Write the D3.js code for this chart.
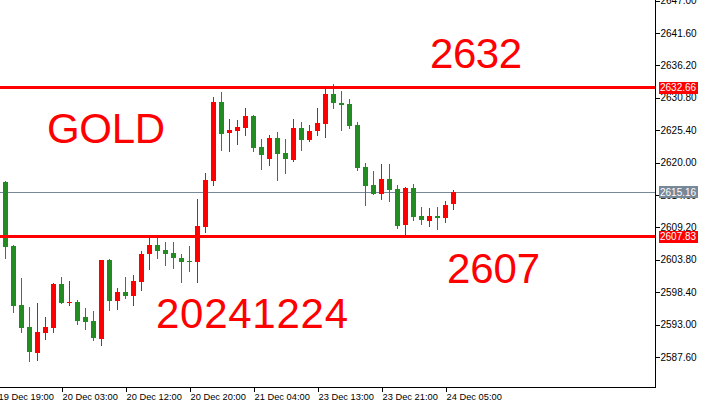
<!DOCTYPE html>
<html><head><meta charset="utf-8">
<script src="https://cdn.jsdelivr.net/npm/d3@7"></script>
<style>body{margin:0;background:#fff;overflow:hidden} svg{display:block}</style>
</head><body><svg id="c" width="704" height="407"></svg>
<script>
// ---- data (XAUUSD H1) ----
const opens  = [2616.80,2606.08,2596.25,2592.58,2588.30,2591.63,2592.47,2599.75,2596.58,2596.80,
                2594.25,2593.58,2590.63,2603.75,2596.97,2598.42,2597.80,2600.13,2604.67,2606.25,
                2605.47,2604.92,2604.13,2603.55,2603.47,2609.30,2616.92,2630.08,2624.97,2625.30,
                2625.80,2627.75,2622.58,2620.63,2624.08,2621.58,2620.42,2625.75,2623.80,2625.30,
                2626.47,2631.42,2629.92,2629.75,2626.30,2619.25,2616.25,2614.80,2617.25,2615.58,
                2609.63,2615.75,2611.08,2610.30,2611.08,2610.80,2613.13];
const highs  = [2616.92,2606.20,2600.75,2595.92,2596.58,2594.25,2599.97,2600.92,2600.25,2597.00,
                2595.75,2595.25,2603.83,2603.92,2599.08,2600.92,2601.25,2605.25,2607.37,2607.62,
                2606.80,2606.80,2604.70,2606.03,2613.92,2618.20,2630.87,2631.78,2627.25,2627.08,
                2629.08,2627.87,2623.92,2624.53,2625.03,2623.92,2627.25,2626.75,2626.25,2629.08,
                2632.42,2633.08,2631.92,2630.58,2626.75,2619.92,2618.58,2619.75,2619.75,2616.20,
                2615.92,2616.42,2612.63,2612.47,2612.63,2613.58,2615.42];
const lows   = [2604.13,2595.13,2591.80,2586.97,2587.13,2590.63,2591.80,2596.50,2596.30,2593.13,
                2592.30,2590.47,2589.63,2595.47,2595.63,2597.37,2596.30,2598.80,2602.30,2604.12,
                2602.92,2602.37,2600.03,2601.92,2600.13,2608.42,2616.25,2622.08,2621.97,2623.08,
                2624.63,2621.97,2618.97,2619.58,2617.08,2618.30,2620.25,2622.13,2623.63,2624.63,
                2624.30,2629.13,2625.47,2625.80,2618.80,2612.92,2614.70,2613.87,2613.53,2609.13,
                2608.03,2610.47,2609.80,2609.47,2608.97,2610.00,2612.30];
const closes = [2605.97,2596.13,2592.47,2588.47,2591.75,2592.58,2599.80,2596.63,2596.78,2593.63,
                2593.47,2590.75,2603.75,2596.97,2598.42,2597.80,2600.25,2604.75,2606.22,2605.30,
                2604.80,2604.03,2603.47,2603.47,2609.42,2617.03,2630.08,2624.80,2625.42,2625.92,
                2627.75,2622.47,2621.25,2624.08,2621.47,2620.63,2625.72,2623.80,2625.25,2626.58,
                2631.42,2629.97,2629.63,2626.13,2619.08,2616.00,2614.80,2617.25,2615.47,2609.47,
                2615.80,2610.97,2610.37,2611.08,2610.80,2612.92,2615.16];
const xTickIndex  = [-1, 7, 15, 23, 31, 39, 47, 55];
const xTickLabels = ["19 Dec 19:00","20 Dec 03:00","20 Dec 12:00","20 Dec 20:00",
                     "21 Dec 04:00","23 Dec 13:00","23 Dec 21:00","24 Dec 05:00"];
const yTicks = [2647.00,2641.60,2636.20,2630.80,2625.40,2620.00,2614.60,2609.20,2603.80,2598.40,2593.00,2587.60];
const levelPrices = [2632.66, 2607.83];
const lastPrice = 2615.16;
const noteTexts = ["2632","GOLD","2607","20241224"];

// ---- drawing ----
const svg = d3.select("#c");
const W = 704, H = 407, axisX = 655.5, axisY = 387.5;
const n = closes.length;
const x = d3.scaleLinear().domain([0, n - 1]).range([5, 5 + 8 * (n - 1)]);
const y = d3.scaleLinear().domain([2587.6, 2647.0]).range([356.9, 0.5]);
const bull = "#ff0000", bear = "#228b22";
const FONT = "Liberation Sans, Arial, sans-serif";

svg.append("rect").attr("width", W).attr("height", H).attr("fill", "#fff");

// last price line
svg.append("line").attr("x1", 0).attr("x2", axisX)
  .attr("y1", Math.round(y(lastPrice)) + 0.5).attr("y2", Math.round(y(lastPrice)) + 0.5)
  .attr("stroke", "#778899").attr("stroke-width", 1).attr("shape-rendering", "crispEdges");

// candles
const g = svg.append("g").attr("shape-rendering", "crispEdges");
d3.range(n).forEach(i => {
  const cx = Math.round(x(i));
  const up = closes[i] >= opens[i];
  const col = up ? bull : bear;
  g.append("line").attr("x1", cx + 0.5).attr("x2", cx + 0.5)
    .attr("y1", Math.round(y(highs[i]))).attr("y2", Math.round(y(lows[i])) + 1)
    .attr("stroke", col).attr("stroke-width", 1);
  const top = Math.round(y(Math.max(opens[i], closes[i])));
  const bot = Math.round(y(Math.min(opens[i], closes[i])));
  g.append("rect").attr("x", cx - 2).attr("width", 5)
    .attr("y", top).attr("height", Math.max(1, bot - top)).attr("fill", col);
});

// horizontal levels
levelPrices.forEach(p => {
  svg.append("line").attr("x1", 0).attr("x2", axisX)
    .attr("y1", y(p) + 1).attr("y2", y(p) + 1)
    .attr("stroke", "#ff0000").attr("stroke-width", 3);
});

// annotations
const notePos = [[430, 68], [47, 143], [447, 283], [156, 328]];
const noteLen = [92, 118, 93, 192];
noteTexts.forEach((t, i) => {
  svg.append("text").attr("x", notePos[i][0]).attr("y", notePos[i][1])
    .attr("font-family", FONT).attr("font-size", 42)
    .attr("textLength", noteLen[i]).attr("lengthAdjust", "spacing")
    .attr("fill", "#ff0000").text(t);
});

// right axis
const ya = svg.append("g").attr("transform", `translate(${axisX},0)`)
  .call(d3.axisRight(y).tickValues(yTicks).tickSize(4).tickPadding(1).tickFormat(d => d.toFixed(2)));
ya.select(".domain").remove();
ya.selectAll("line").attr("stroke", "#000").attr("shape-rendering", "crispEdges");
ya.selectAll("text").attr("font-family", FONT).attr("font-size", 10).attr("fill", "#000");

// bottom axis
const xa = svg.append("g").attr("transform", `translate(0,${axisY})`)
  .call(d3.axisBottom(x).tickValues(xTickIndex).tickSize(4)
    .tickFormat((d, i) => xTickLabels[i]));
xa.select(".domain").remove();
xa.selectAll("line").attr("stroke", "#000").attr("shape-rendering", "crispEdges")
  .attr("transform", "translate(0.5,0)");
xa.selectAll("text").attr("font-family", FONT)
  .attr("font-size", 9.3).attr("fill", "#000").attr("text-anchor", "start")
  .attr("dx", 1).attr("y", 6).attr("dy", "0.71em");

// frame lines
svg.append("line").attr("x1", axisX).attr("x2", axisX).attr("y1", 0).attr("y2", axisY + 0.5)
  .attr("stroke", "#000").attr("shape-rendering", "crispEdges");
svg.append("line").attr("x1", 0).attr("x2", axisX + 0.5).attr("y1", axisY).attr("y2", axisY)
  .attr("stroke", "#000").attr("shape-rendering", "crispEdges");

// price tags on the axis
const tags = [[levelPrices[0], "#ff0000"], [lastPrice, "#778899"], [levelPrices[1], "#ff0000"]];
tags.forEach(([p, col]) => {
  const cy = y(p) + (col === "#ff0000" ? 1 : 0.5);
  svg.append("rect").attr("x", 659).attr("y", Math.round(cy - 6)).attr("width", 39).attr("height", 12)
    .attr("fill", col).attr("shape-rendering", "crispEdges");
  svg.append("text").attr("x", 660).attr("y", cy).attr("dy", "0.35em")
    .attr("font-family", FONT).attr("font-size", 10)
    .attr("fill", "#fff").text(p.toFixed(2));
});
</script></body></html>
